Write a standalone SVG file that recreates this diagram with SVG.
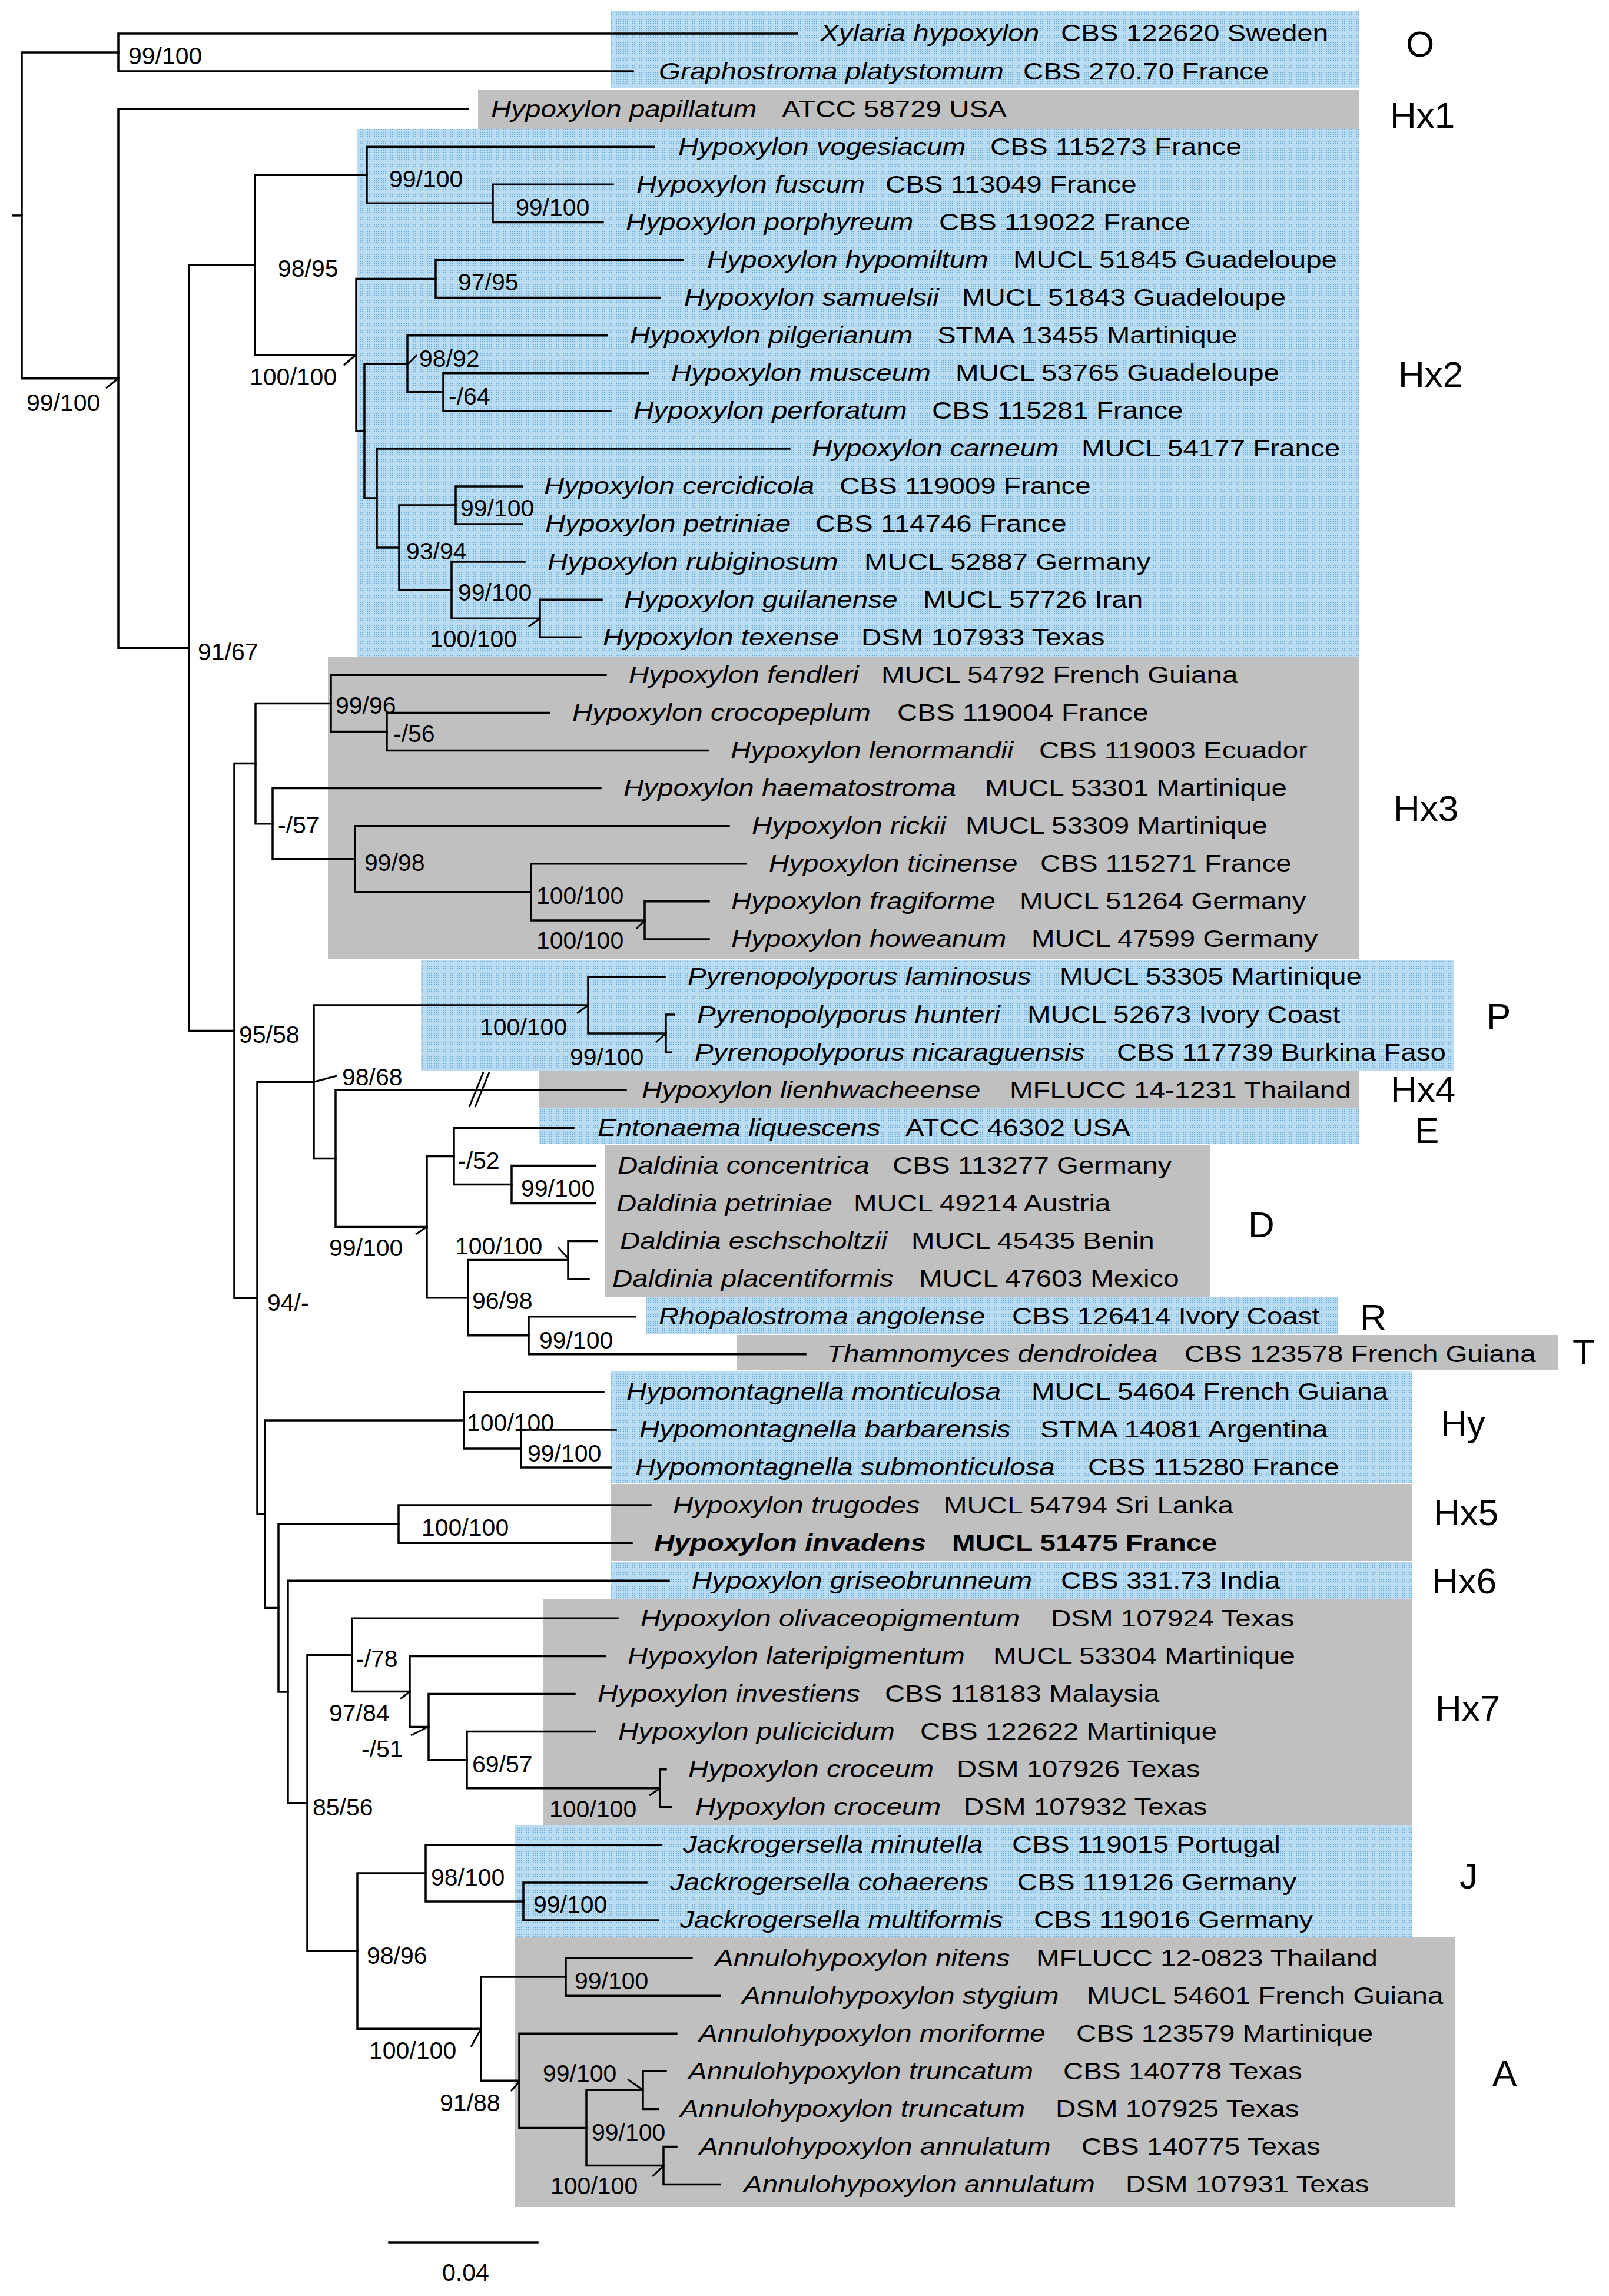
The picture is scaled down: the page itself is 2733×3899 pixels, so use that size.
<svg xmlns="http://www.w3.org/2000/svg" width="2733" height="3899" viewBox="0 0 2733 3899">
<defs>
<pattern id="blue" width="3" height="3" patternUnits="userSpaceOnUse"><rect width="3" height="3" fill="#b9dcf2"/><rect width="1" height="1" fill="#5fa9df"/></pattern>
</defs>
<style>
.b{fill:url(#blue)}
.g{fill:#c0c0c0}
.br{fill:none;stroke:#000;stroke-width:3.5;stroke-linecap:square}
.tk{fill:none;stroke:#000;stroke-width:3}
.sup{font-family:"Liberation Sans",Arial,sans-serif;font-size:41px;fill:#000}
.tx{font-family:"Liberation Sans",Arial,sans-serif;font-size:41.3px;fill:#000}
.sp{font-style:italic}
.bd{font-weight:bold}
.cl{font-family:"Liberation Sans",Arial,sans-serif;font-size:62px;fill:#000}
</style>
<rect width="2733" height="3899" fill="#fff"/>
<g id="clades">
<g id="clade-O"><rect class="b" x="1037" y="18" width="1271" height="132"/><text class="cl" x="2388" y="96">O</text></g>
<g id="clade-Hx1"><rect class="g" x="812" y="152" width="1496" height="67"/><text class="cl" x="2361" y="217">Hx1</text></g>
<g id="clade-Hx2"><rect class="b" x="607" y="219" width="1701" height="896"/><text class="cl" x="2375" y="657">Hx2</text></g>
<g id="clade-Hx3"><rect class="g" x="557" y="1115" width="1751" height="514"/><text class="cl" x="2367" y="1394">Hx3</text></g>
<g id="clade-P"><rect class="b" x="715" y="1630" width="1755" height="188"/><text class="cl" x="2525" y="1747">P</text></g>
<g id="clade-Hx4"><rect class="g" x="915" y="1819" width="1393" height="62"/><text class="cl" x="2362" y="1871">Hx4</text></g>
<g id="clade-E"><rect class="b" x="915" y="1881" width="1393" height="62"/><text class="cl" x="2403" y="1941">E</text></g>
<g id="clade-D"><rect class="g" x="1027" y="1945" width="1029" height="257"/><text class="cl" x="2120" y="2101">D</text></g>
<g id="clade-R"><rect class="b" x="1098" y="2203" width="1175" height="63"/><text class="cl" x="2310" y="2258">R</text></g>
<g id="clade-T"><rect class="g" x="1251" y="2267" width="1395" height="60"/><text class="cl" x="2671" y="2317">T</text></g>
<g id="clade-Hy"><rect class="b" x="1038" y="2328" width="1360" height="191"/><text class="cl" x="2447" y="2438">Hy</text></g>
<g id="clade-Hx5"><rect class="g" x="1038" y="2520" width="1360" height="131"/><text class="cl" x="2435" y="2590">Hx5</text></g>
<g id="clade-Hx6"><rect class="b" x="1038" y="2652" width="1360" height="64"/><text class="cl" x="2432" y="2706">Hx6</text></g>
<g id="clade-Hx7"><rect class="g" x="923" y="2716" width="1475" height="383"/><text class="cl" x="2438" y="2922">Hx7</text></g>
<g id="clade-J"><rect class="b" x="875" y="3100" width="1523" height="189"/><text class="cl" x="2479" y="3207">J</text></g>
<g id="clade-A"><rect class="g" x="874" y="3290" width="1598" height="458"/><text class="cl" x="2535" y="3542">A</text></g>
</g>
<g id="connectors">
<path class="br" d="M22 365.9H37"/>
<path class="br" d="M201 89.04H37V642.7H201"/>
<path class="br" d="M1354 57H201V121.08H1075"/>
<path class="br" d="M795 185.16H201V1100.2H321"/>
<path class="br" d="M433 450H321V1750.4H398"/>
<path class="br" d="M623 297.3H433V602.7H605"/>
<path class="br" d="M1111 249.24H623V345.36H837"/>
<path class="br" d="M1041 313.32H837V377.4H1024"/>
<path class="br" d="M740 473.52H605V731.85H619"/>
<path class="br" d="M1160 441.48H740V505.56H1121"/>
<path class="br" d="M692 617.7H619V846H640"/>
<path class="br" d="M1031 569.64H692V665.76H753"/>
<path class="br" d="M1101 633.72H753V697.8H1037"/>
<path class="br" d="M1341 761.88H640V930.1H678"/>
<path class="br" d="M774 858H678V1002.2H767"/>
<path class="br" d="M887 825.96H774V890.04H887"/>
<path class="br" d="M891 954.12H767V1050.24H917"/>
<path class="br" d="M1022 1018.2H917V1082.28H986"/>
<path class="br" d="M434 1296.55H398V2204.25H437"/>
<path class="br" d="M562 1194.42H434V1398.68H463"/>
<path class="br" d="M1029 1146.36H562V1242.48H657"/>
<path class="br" d="M933 1210.44H657V1274.52H1203"/>
<path class="br" d="M1020 1338.6H463V1458.75H603"/>
<path class="br" d="M1238 1402.68H603V1514.82H902"/>
<path class="br" d="M1267 1466.76H902V1562.88H1095"/>
<path class="br" d="M1204 1530.84H1095V1594.92H1204"/>
<path class="br" d="M533 1837.23H437V2571.27H450"/>
<path class="br" d="M999 1707.06H533V1967.39H570"/>
<path class="br" d="M1129 1659H999V1755.12H1131"/>
<path class="br" d="M1145 1723.08H1131V1787.16H1140"/>
<path class="br" d="M1063 1851.24H570V2083.53H725"/>
<path class="br" d="M771 1963.38H725V2203.68H795"/>
<path class="br" d="M974 1915.32H771V2011.44H869"/>
<path class="br" d="M1011 1979.4H869V2043.48H1011"/>
<path class="br" d="M965 2139.6H795V2267.76H898"/>
<path class="br" d="M1014 2107.56H965V2171.64H1000"/>
<path class="br" d="M1079 2235.72H898V2299.8H1368"/>
<path class="br" d="M788 2411.94H450V2730.59H473"/>
<path class="br" d="M1025 2363.88H788V2460H885"/>
<path class="br" d="M1046 2427.96H885V2492.04H1038"/>
<path class="br" d="M677 2588.16H473V2873.02H489"/>
<path class="br" d="M1105 2556.12H677V2620.2H1073"/>
<path class="br" d="M1136 2684.28H489V3061.76H522"/>
<path class="br" d="M598 2810.44H522V3313.07H607"/>
<path class="br" d="M1049 2748.36H598V2872.52H696"/>
<path class="br" d="M1028 2812.44H696V2932.59H728"/>
<path class="br" d="M976 2876.52H728V2988.66H793"/>
<path class="br" d="M1011 2940.6H793V3036.72H1121"/>
<path class="br" d="M1131 3004.68H1121V3068.76H1140"/>
<path class="br" d="M723 3180.9H607V3445.23H817"/>
<path class="br" d="M1123 3132.84H723V3228.96H889"/>
<path class="br" d="M1098 3196.92H889V3261H1118"/>
<path class="br" d="M961 3357.12H817V3533.34H882"/>
<path class="br" d="M1175 3325.08H961V3389.16H1223"/>
<path class="br" d="M1149 3453.24H882V3613.44H996"/>
<path class="br" d="M1092 3549.36H996V3677.52H1127"/>
<path class="br" d="M1131 3517.32H1092V3581.4H1118"/>
<path class="br" d="M1149 3645.48H1127V3709.56H1223"/>
<path class="tk" d="M821 1821L797 1880M831 1821L807 1880"/>
<path class="tk" d="M180 659L201 642.7M584 620L604 603M693 618L708 603M898 1064L916 1051M1081 1577L1095 1563M980 1721L999 1707M1114 1770L1131 1755M533 1837.2L572 1827M706 2096L725 2083.5M948 2118L965 2137M680 2885L696 2873M698 2947L726 2933M1103 3049L1121 3037M800 3476L816 3447M868 3551L882 3535M1066 3531L1092 3549M1108 3696L1127 3678"/>
<path class="br" d="M661 3808H913"/>
</g>
<g id="supports">
<text class="sup" x="218" y="109">99/100</text>
<text class="sup" x="45" y="698">99/100</text>
<text class="sup" x="472" y="470">98/95</text>
<text class="sup" x="661" y="318">99/100</text>
<text class="sup" x="876" y="366">99/100</text>
<text class="sup" x="424" y="654">100/100</text>
<text class="sup" x="778" y="493">97/95</text>
<text class="sup" x="712" y="623">98/92</text>
<text class="sup" x="762" y="687">-/64</text>
<text class="sup" x="782" y="877">99/100</text>
<text class="sup" x="690" y="950">93/94</text>
<text class="sup" x="778" y="1020">99/100</text>
<text class="sup" x="730" y="1099">100/100</text>
<text class="sup" x="336" y="1121">91/67</text>
<text class="sup" x="570" y="1212">99/96</text>
<text class="sup" x="668" y="1260">-/56</text>
<text class="sup" x="472" y="1415">-/57</text>
<text class="sup" x="619" y="1479">99/98</text>
<text class="sup" x="911" y="1535">100/100</text>
<text class="sup" x="911" y="1611">100/100</text>
<text class="sup" x="815" y="1758">100/100</text>
<text class="sup" x="968" y="1809">99/100</text>
<text class="sup" x="406" y="1771">95/58</text>
<text class="sup" x="581" y="1843">98/68</text>
<text class="sup" x="778" y="1985">-/52</text>
<text class="sup" x="885" y="2032">99/100</text>
<text class="sup" x="559" y="2133">99/100</text>
<text class="sup" x="773" y="2130">100/100</text>
<text class="sup" x="802" y="2223">96/98</text>
<text class="sup" x="454" y="2226">94/-</text>
<text class="sup" x="916" y="2290">99/100</text>
<text class="sup" x="793" y="2430">100/100</text>
<text class="sup" x="896" y="2482">99/100</text>
<text class="sup" x="716" y="2608">100/100</text>
<text class="sup" x="605" y="2831">-/78</text>
<text class="sup" x="559" y="2923">97/84</text>
<text class="sup" x="614" y="2984">-/51</text>
<text class="sup" x="802" y="3010">69/57</text>
<text class="sup" x="531" y="3083">85/56</text>
<text class="sup" x="933" y="3086">100/100</text>
<text class="sup" x="732" y="3202">98/100</text>
<text class="sup" x="906" y="3248">99/100</text>
<text class="sup" x="623" y="3335">98/96</text>
<text class="sup" x="976" y="3378">99/100</text>
<text class="sup" x="627" y="3496">100/100</text>
<text class="sup" x="922" y="3535">99/100</text>
<text class="sup" x="747" y="3585">91/88</text>
<text class="sup" x="1005" y="3635">99/100</text>
<text class="sup" x="935" y="3726">100/100</text>
<text class="sup" x="751" y="3873">0.04</text>
</g>
<g id="taxa" transform="scale(1.15 1)">
<g id="t01"><text class="tx" y="70.5"><tspan class="sp" x="1211.3">Xylaria hypoxylon</tspan><tspan x="1567">CBS 122620 Sweden</tspan></text></g>
<g id="t02"><text class="tx" y="134.6"><tspan class="sp" x="973">Graphostroma platystomum</tspan><tspan x="1511.3">CBS 270.70 France</tspan></text></g>
<g id="t03"><text class="tx" y="198.7"><tspan class="sp" x="725.2">Hypoxylon papillatum</tspan><tspan x="1154.8">ATCC 58729 USA</tspan></text></g>
<g id="t04"><text class="tx" y="262.7"><tspan class="sp" x="1001.7">Hypoxylon vogesiacum</tspan><tspan x="1462.6">CBS 115273 France</tspan></text></g>
<g id="t05"><text class="tx" y="326.8"><tspan class="sp" x="940">Hypoxylon fuscum</tspan><tspan x="1307.8">CBS 113049 France</tspan></text></g>
<g id="t06"><text class="tx" y="390.9"><tspan class="sp" x="924.3">Hypoxylon porphyreum</tspan><tspan x="1387">CBS 119022 France</tspan></text></g>
<g id="t07"><text class="tx" y="455"><tspan class="sp" x="1044.3">Hypoxylon hypomiltum</tspan><tspan x="1496.5">MUCL 51845 Guadeloupe</tspan></text></g>
<g id="t08"><text class="tx" y="519.1"><tspan class="sp" x="1010.4">Hypoxylon samuelsii</tspan><tspan x="1420.9">MUCL 51843 Guadeloupe</tspan></text></g>
<g id="t09"><text class="tx" y="583.1"><tspan class="sp" x="930.4">Hypoxylon pilgerianum</tspan><tspan x="1384.3">STMA 13455 Martinique</tspan></text></g>
<g id="t10"><text class="tx" y="647.2"><tspan class="sp" x="991.3">Hypoxylon musceum</tspan><tspan x="1411.3">MUCL 53765 Guadeloupe</tspan></text></g>
<g id="t11"><text class="tx" y="711.3"><tspan class="sp" x="935.7">Hypoxylon perforatum</tspan><tspan x="1376.5">CBS 115281 France</tspan></text></g>
<g id="t12"><text class="tx" y="775.4"><tspan class="sp" x="1199.1">Hypoxylon carneum</tspan><tspan x="1597.4">MUCL 54177 France</tspan></text></g>
<g id="t13"><text class="tx" y="839.5"><tspan class="sp" x="803.5">Hypoxylon cercidicola</tspan><tspan x="1240">CBS 119009 France</tspan></text></g>
<g id="t14"><text class="tx" y="903.5"><tspan class="sp" x="805.2">Hypoxylon petriniae</tspan><tspan x="1204.3">CBS 114746 France</tspan></text></g>
<g id="t15"><text class="tx" y="967.6"><tspan class="sp" x="808.7">Hypoxylon rubiginosum</tspan><tspan x="1276.5">MUCL 52887 Germany</tspan></text></g>
<g id="t16"><text class="tx" y="1031.7"><tspan class="sp" x="921.7">Hypoxylon guilanense</tspan><tspan x="1363.5">MUCL 57726 Iran</tspan></text></g>
<g id="t17"><text class="tx" y="1095.8"><tspan class="sp" x="890.4">Hypoxylon texense</tspan><tspan x="1272.2">DSM 107933 Texas</tspan></text></g>
<g id="t18"><text class="tx" y="1159.9"><tspan class="sp" x="928.7">Hypoxylon fendleri</tspan><tspan x="1301.7">MUCL 54792 French Guiana</tspan></text></g>
<g id="t19"><text class="tx" y="1223.9"><tspan class="sp" x="845.2">Hypoxylon crocopeplum</tspan><tspan x="1325.2">CBS 119004 France</tspan></text></g>
<g id="t20"><text class="tx" y="1288"><tspan class="sp" x="1079.1">Hypoxylon lenormandii</tspan><tspan x="1534.8">CBS 119003 Ecuador</tspan></text></g>
<g id="t21"><text class="tx" y="1352.1"><tspan class="sp" x="920.9">Hypoxylon haematostroma</tspan><tspan x="1454.8">MUCL 53301 Martinique</tspan></text></g>
<g id="t22"><text class="tx" y="1416.2"><tspan class="sp" x="1110.4">Hypoxylon rickii</tspan><tspan x="1426.1">MUCL 53309 Martinique</tspan></text></g>
<g id="t23"><text class="tx" y="1480.3"><tspan class="sp" x="1135.7">Hypoxylon ticinense</tspan><tspan x="1536.5">CBS 115271 France</tspan></text></g>
<g id="t24"><text class="tx" y="1544.3"><tspan class="sp" x="1080">Hypoxylon fragiforme</tspan><tspan x="1506.1">MUCL 51264 Germany</tspan></text></g>
<g id="t25"><text class="tx" y="1608.4"><tspan class="sp" x="1080">Hypoxylon howeanum</tspan><tspan x="1523.5">MUCL 47599 Germany</tspan></text></g>
<g id="t26"><text class="tx" y="1672.5"><tspan class="sp" x="1015.7">Pyrenopolyporus laminosus</tspan><tspan x="1565.2">MUCL 53305 Martinique</tspan></text></g>
<g id="t27"><text class="tx" y="1736.6"><tspan class="sp" x="1029.6">Pyrenopolyporus hunteri</tspan><tspan x="1517.4">MUCL 52673 Ivory Coast</tspan></text></g>
<g id="t28"><text class="tx" y="1800.7"><tspan class="sp" x="1026.1">Pyrenopolyporus nicaraguensis</tspan><tspan x="1649.6">CBS 117739 Burkina Faso</tspan></text></g>
<g id="t29"><text class="tx" y="1864.7"><tspan class="sp" x="947.8">Hypoxylon lienhwacheense</tspan><tspan x="1491.3">MFLUCC 14-1231 Thailand</tspan></text></g>
<g id="t30"><text class="tx" y="1928.8"><tspan class="sp" x="882.6">Entonaema liquescens</tspan><tspan x="1337.4">ATCC 46302 USA</tspan></text></g>
<g id="t31"><text class="tx" y="1992.9"><tspan class="sp" x="912.2">Daldinia concentrica</tspan><tspan x="1318.3">CBS 113277 Germany</tspan></text></g>
<g id="t32"><text class="tx" y="2057"><tspan class="sp" x="910.4">Daldinia petriniae</tspan><tspan x="1260.9">MUCL 49214 Austria</tspan></text></g>
<g id="t33"><text class="tx" y="2121.1"><tspan class="sp" x="915.7">Daldinia eschscholtzii</tspan><tspan x="1346.1">MUCL 45435 Benin</tspan></text></g>
<g id="t34"><text class="tx" y="2185.1"><tspan class="sp" x="904.3">Daldinia placentiformis</tspan><tspan x="1357.4">MUCL 47603 Mexico</tspan></text></g>
<g id="t35"><text class="tx" y="2249.2"><tspan class="sp" x="973">Rhopalostroma angolense</tspan><tspan x="1494.8">CBS 126414 Ivory Coast</tspan></text></g>
<g id="t36"><text class="tx" y="2313.3"><tspan class="sp" x="1220.9">Thamnomyces dendroidea</tspan><tspan x="1749.6">CBS 123578 French Guiana</tspan></text></g>
<g id="t37"><text class="tx" y="2377.4"><tspan class="sp" x="925.2">Hypomontagnella monticulosa</tspan><tspan x="1523.5">MUCL 54604 French Guiana</tspan></text></g>
<g id="t38"><text class="tx" y="2441.5"><tspan class="sp" x="944.3">Hypomontagnella barbarensis</tspan><tspan x="1536.5">STMA 14081 Argentina</tspan></text></g>
<g id="t39"><text class="tx" y="2505.5"><tspan class="sp" x="938.3">Hypomontagnella submonticulosa</tspan><tspan x="1607">CBS 115280 France</tspan></text></g>
<g id="t40"><text class="tx" y="2569.6"><tspan class="sp" x="993.9">Hypoxylon trugodes</tspan><tspan x="1393.9">MUCL 54794 Sri Lanka</tspan></text></g>
<g id="t41"><text class="tx bd" y="2633.7"><tspan class="sp" x="966.1">Hypoxylon invadens</tspan><tspan x="1406.1">MUCL 51475 France</tspan></text></g>
<g id="t42"><text class="tx" y="2697.8"><tspan class="sp" x="1021.7">Hypoxylon griseobrunneum</tspan><tspan x="1567">CBS 331.73 India</tspan></text></g>
<g id="t43"><text class="tx" y="2761.9"><tspan class="sp" x="946.1">Hypoxylon olivaceopigmentum</tspan><tspan x="1552.2">DSM 107924 Texas</tspan></text></g>
<g id="t44"><text class="tx" y="2825.9"><tspan class="sp" x="927">Hypoxylon lateripigmentum</tspan><tspan x="1467">MUCL 53304 Martinique</tspan></text></g>
<g id="t45"><text class="tx" y="2890"><tspan class="sp" x="882.6">Hypoxylon investiens</tspan><tspan x="1307">CBS 118183 Malaysia</tspan></text></g>
<g id="t46"><text class="tx" y="2954.1"><tspan class="sp" x="913">Hypoxylon pulicicidum</tspan><tspan x="1359.1">CBS 122622 Martinique</tspan></text></g>
<g id="t47"><text class="tx" y="3018.2"><tspan class="sp" x="1016.5">Hypoxylon croceum</tspan><tspan x="1413">DSM 107926 Texas</tspan></text></g>
<g id="t48"><text class="tx" y="3082.3"><tspan class="sp" x="1027">Hypoxylon croceum</tspan><tspan x="1423.5">DSM 107932 Texas</tspan></text></g>
<g id="t49"><text class="tx" y="3146.3"><tspan class="sp" x="1008.7">Jackrogersella minutella</tspan><tspan x="1494.8">CBS 119015 Portugal</tspan></text></g>
<g id="t50"><text class="tx" y="3210.4"><tspan class="sp" x="989.6">Jackrogersella cohaerens</tspan><tspan x="1502.6">CBS 119126 Germany</tspan></text></g>
<g id="t51"><text class="tx" y="3274.5"><tspan class="sp" x="1004.3">Jackrogersella multiformis</tspan><tspan x="1527">CBS 119016 Germany</tspan></text></g>
<g id="t52"><text class="tx" y="3338.6"><tspan class="sp" x="1055.7">Annulohypoxylon nitens</tspan><tspan x="1530.4">MFLUCC 12-0823 Thailand</tspan></text></g>
<g id="t53"><text class="tx" y="3402.7"><tspan class="sp" x="1095.7">Annulohypoxylon stygium</tspan><tspan x="1605.2">MUCL 54601 French Guiana</tspan></text></g>
<g id="t54"><text class="tx" y="3466.7"><tspan class="sp" x="1032.2">Annulohypoxylon moriforme</tspan><tspan x="1589.6">CBS 123579 Martinique</tspan></text></g>
<g id="t55"><text class="tx" y="3530.8"><tspan class="sp" x="1016.5">Annulohypoxylon truncatum</tspan><tspan x="1570.4">CBS 140778 Texas</tspan></text></g>
<g id="t56"><text class="tx" y="3594.9"><tspan class="sp" x="1004.3">Annulohypoxylon truncatum</tspan><tspan x="1559.1">DSM 107925 Texas</tspan></text></g>
<g id="t57"><text class="tx" y="3659"><tspan class="sp" x="1033">Annulohypoxylon annulatum</tspan><tspan x="1597.4">CBS 140775 Texas</tspan></text></g>
<g id="t58"><text class="tx" y="3723.1"><tspan class="sp" x="1098.3">Annulohypoxylon annulatum</tspan><tspan x="1662.6">DSM 107931 Texas</tspan></text></g>
</g>
</svg>
